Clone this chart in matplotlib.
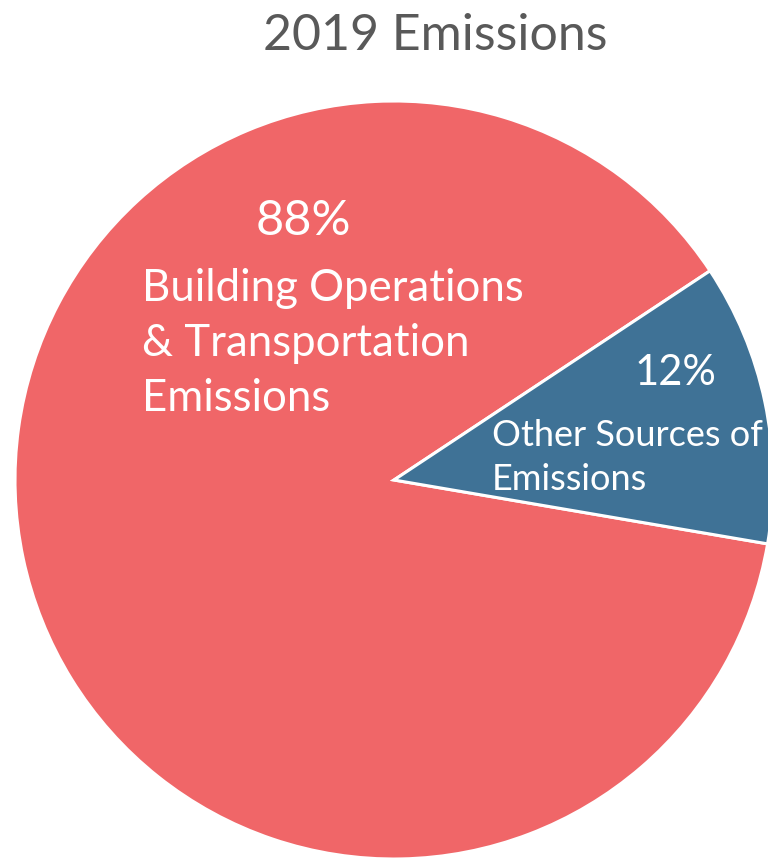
import matplotlib.pyplot as plt

# 2019 emissions split
labels = ["Building Operations\n& Transportation\nEmissions", "Other Sources of\nEmissions"]
shares = [88, 12]
colors = ["#F06668", "#3F7296"]

W, H = 768, 859
fig = plt.figure(figsize=(W / 100, H / 100), dpi=100)
ax = fig.add_axes([0, 0, 1, 1])

cx, cy, r = 394, H - 480, 379
wedges, _ = ax.pie(shares, colors=colors, startangle=33.5, counterclock=True,
                   center=(cx, cy), radius=r, frame=True,
                   wedgeprops=dict(edgecolor="white", linewidth=2.2))
ax.set_xlim(0, W)
ax.set_ylim(0, H)
ax.set_aspect("equal")
ax.axis("off")

font = "Lato"

ax.text(435, H - 50, "2019 Emissions", ha="center", va="baseline",
        fontsize=36, color="#595959", family=font)

# multi-line text: baseline refers to the last line
ax.text(303, H - 235, "%d%%" % shares[0], ha="center", va="baseline",
        fontsize=35, color="white", family=font)
ax.text(142, H - 411, labels[0], ha="left", va="baseline",
        fontsize=31.5, color="white", family=font, linespacing=1.42)

ax.text(675, H - 385, "%d%%" % shares[1], ha="center", va="baseline",
        fontsize=30, color="white", family=font)
ax.text(492, H - 490, labels[1], ha="left", va="baseline",
        fontsize=26, color="white", family=font, linespacing=1.4)

fig.savefig("out.png", dpi=100)
